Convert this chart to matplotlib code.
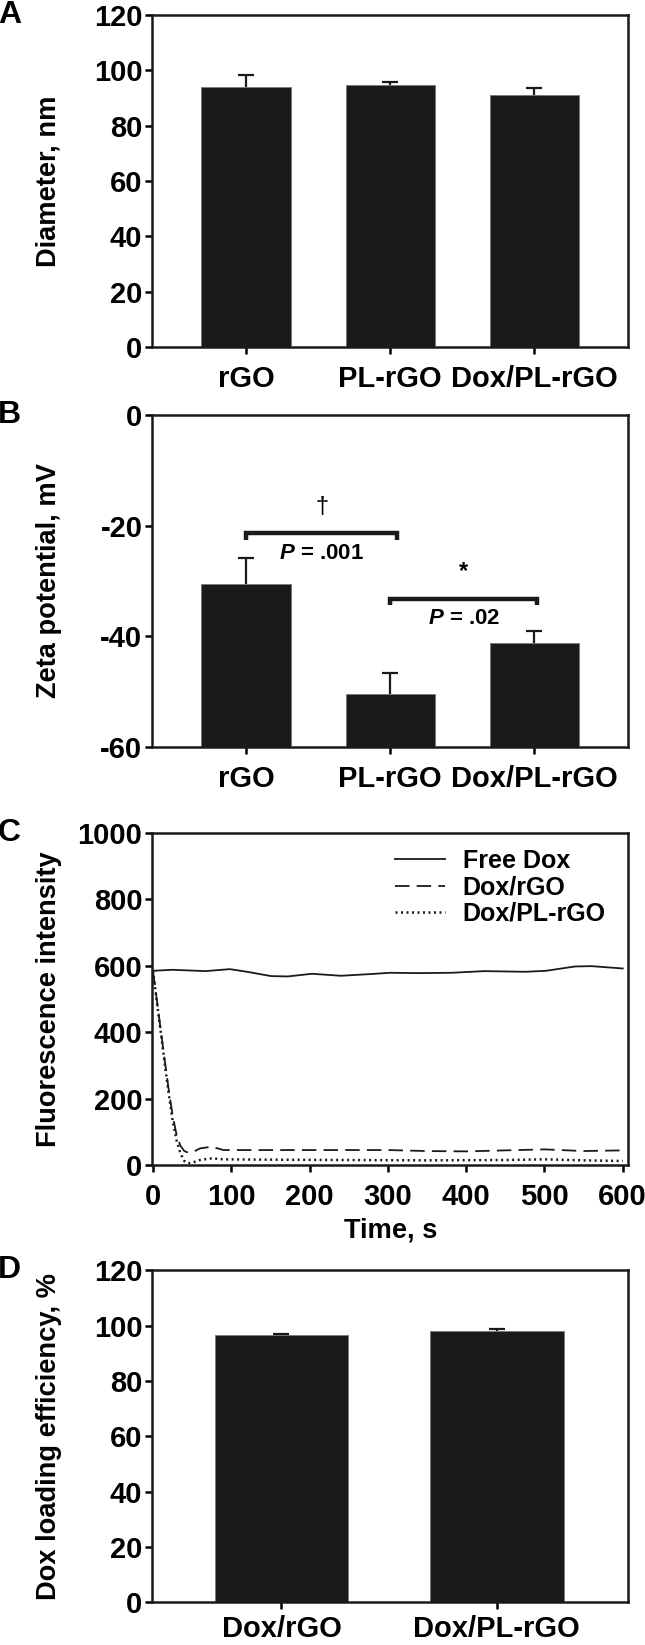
"""Nanoparticle characterisation: size, zeta potential, quenching, loading"""

import numpy as np
import matplotlib.pyplot as plt

plt.rcParams['font.family'] = ['Liberation Sans Narrow', 'Liberation Sans', 'DejaVu Sans']
plt.rcParams['font.weight'] = 'bold'
plt.rcParams['axes.unicode_minus'] = False
plt.rcParams['mathtext.fontset'] = 'custom'
plt.rcParams['mathtext.it'] = 'Liberation Sans:bold:italic'
plt.rcParams['mathtext.rm'] = 'Liberation Sans:bold'

# PANEL A - DIAMETER
cats_abc = ['rGO', 'PL-rGO', 'Dox/PL-rGO']
diam = [94.1, 94.7, 91.2]
diam_err = [4.2, 1.2, 2.4]

# PANEL B - ZETA POTENTIAL
zeta = [-30.6, -50.4, -41.2]
zeta_err = [4.7, 3.8, 2.1]
brackets = [(0.0, 1.05), (1.0, 2.02)]
bracket_y = [-21.4, -33.2]
sig_marks = ['\u2020', '*']
p_texts = [r'$P$ = .001', r'$P$ = .02']

# PANEL C - FLUORESCENCE QUENCHING
t_free = [0, 25, 67, 98, 120, 151, 172, 203, 240, 277, 303, 340, 381, 423, 476, 502, 539, 560, 600]
free_dox = [585, 588, 584, 590, 582, 569, 568, 576, 570, 575, 579, 578, 579, 584, 582, 585, 598, 599, 592]
t_rgo = [0, 5, 10, 15, 20, 25, 30, 35, 40, 45, 52, 60, 75, 90, 150, 250, 300, 350, 400, 450, 500, 550, 600]
dox_rgo = [585, 495, 405, 315, 228, 150, 92, 58, 42, 37, 40, 50, 55, 45, 45, 45, 45, 42, 41, 44, 47, 42, 44]
t_pl = [0, 5, 10, 15, 20, 25, 30, 35, 40, 45, 50, 60, 75, 90, 150, 250, 350, 450, 500, 550, 600]
dox_pl = [585, 490, 398, 305, 215, 135, 75, 35, 12, 5, 7, 15, 20, 17, 16, 15, 14, 15, 17, 14, 12]

# PANEL D - LOADING EFFICIENCY
cats_d = ['Dox/rGO', 'Dox/PL-rGO']
load = [96.7, 98.1]
load_err = [0.4, 0.8]

BAR = '#1a1a1a'
TICKFONT = 21
LABFONT = 19.6
LABFAM = ['Liberation Sans', 'DejaVu Sans']

fig = plt.figure(figsize=(6.45, 16.45), dpi=100)
L, W, H = 0.236, 0.738, 0.2018
axA = fig.add_axes([L, 0.789, W, H])
axB = fig.add_axes([L, 0.546, W, H])
axC = fig.add_axes([L, 0.2918, W, H])
axD = fig.add_axes([L, 0.026, W, H])


def style(ax, xpad=8):
    for s in ax.spines.values():
        s.set_linewidth(1.8)
        s.set_color('#1a1a1a')
    ax.tick_params(axis='both', direction='out', length=5, width=1.8,
                   labelsize=TICKFONT, pad=2)
    ax.tick_params(axis='x', pad=xpad)
    ax.tick_params(top=False, right=False)
    for lab in ax.get_xticklabels() + ax.get_yticklabels():
        lab.set_fontweight('bold')


def bars(ax, cats, vals, errs, bottom=0):
    x = np.arange(len(cats))
    h = [v - bottom for v in vals]
    ax.bar(x, h, width=0.62, bottom=bottom, color=BAR, edgecolor='#777777', linewidth=0.6, zorder=2)
    _, caps, _ = ax.errorbar(x, vals, yerr=[np.zeros(len(vals)), errs], fmt='none',
                             ecolor='#1a1a1a', elinewidth=1.6, capsize=6, capthick=1.6, zorder=3)
    caps[0].set_visible(False)
    ax.set_xticks(x)
    ax.set_xticklabels(cats)


# A
bars(axA, cats_abc, diam, diam_err)
axA.set_xlim(-0.65, 2.65)
axA.set_ylim(0, 120)
axA.set_yticks(range(0, 121, 20))
axA.set_ylabel('Diameter, nm', fontsize=LABFONT, fontweight='bold', family=LABFAM)
style(axA)

# B
bars(axB, cats_abc, zeta, zeta_err, bottom=-60)
axB.set_xlim(-0.65, 2.65)
axB.set_ylim(-60, 0)
axB.set_yticks(range(-60, 1, 20))
axB.set_ylabel('Zeta potential, mV', fontsize=LABFONT, fontweight='bold', family=LABFAM)
for (x0, x1), yb, mk, pt in zip(brackets, bracket_y, sig_marks, p_texts):
    axB.plot([x0, x0, x1, x1], [yb - 1.2, yb, yb, yb - 1.2], color='#1a1a1a', lw=3.2,
             solid_capstyle='butt', solid_joinstyle='miter', zorder=4)
    xm = (x0 + x1) / 2
    axB.text(xm, yb + 4.8, mk, ha='center', va='center', fontsize=17, family=LABFAM,
             fontweight='bold' if mk == '*' else 'normal')
    axB.text(xm, yb - 3.6, pt, ha='center', va='center', fontsize=16,
             family=LABFAM, fontweight='bold')
style(axB)

# C
axC.plot(t_free, free_dox, color='#1a1a1a', lw=1.3, label='Free Dox')
axC.plot(t_rgo, dox_rgo, color='#1a1a1a', lw=1.3, dashes=(8, 4), label='Dox/rGO')
axC.plot(t_pl, dox_pl, color='#1a1a1a', lw=1.8, dashes=(0.8, 1.4), label='Dox/PL-rGO')
axC.set_xlim(-1, 607)
axC.set_ylim(0, 1000)
axC.set_xticks(range(0, 601, 100))
axC.set_yticks(range(0, 1001, 200))
axC.set_ylabel('Fluorescence intensity', fontsize=LABFONT, fontweight='bold', family=LABFAM)
axC.set_xlabel('Time, s', fontsize=LABFONT, fontweight='bold', family=LABFAM, labelpad=5)
leg = axC.legend(loc='upper right', frameon=False, handlelength=2.0, handletextpad=0.7,
                 labelspacing=0.1, bbox_to_anchor=(1.0, 1.02),
                 prop={'family': LABFAM, 'weight': 'bold', 'size': 18})
style(axC)

# D
bars(axD, cats_d, load, load_err)
axD.set_xlim(-0.6, 1.61)
axD.set_ylim(0, 120)
axD.set_yticks(range(0, 121, 20))
axD.set_ylabel('Dox loading efficiency, %', fontsize=LABFONT, fontweight='bold', family=LABFAM)
style(axD, xpad=4)

for ax in (axA, axB, axC, axD):
    ax.yaxis.set_label_coords(-0.19, 0.5)

# PANEL LETTERS
for ax, letter in zip((axA, axB, axC, axD), 'ABCD'):
    ax.text(-0.3, 1.0, letter, transform=ax.transAxes, ha='center', va='center',
            fontsize=23, fontweight='bold', family=LABFAM)

fig.savefig('out.png', dpi=100)
